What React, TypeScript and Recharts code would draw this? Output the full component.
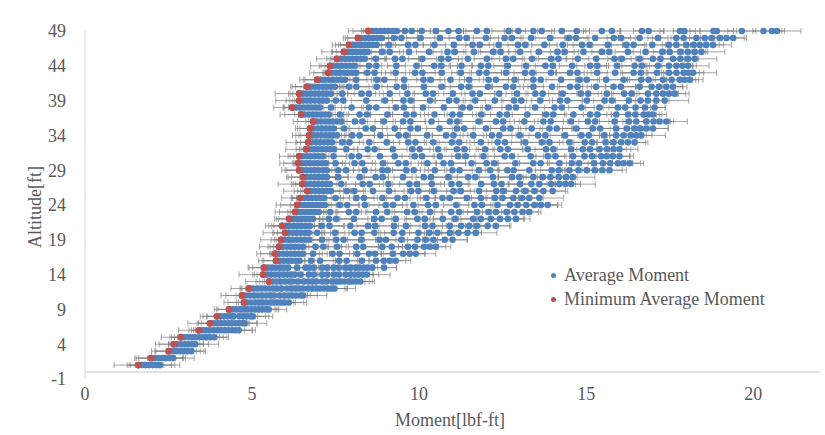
import React from 'react';
import { ScatterChart, Scatter, XAxis, YAxis, ErrorBar, ReferenceLine, Legend } from 'recharts';

const FONT = "'Liberation Serif', 'Times New Roman', serif";
const TEXT = '#595959';
const BLUE = '#4f81bd';
const RED = '#c0504d';

const xTicks = [0, 5, 10, 15, 20];
const yTicks = [-1, 4, 9, 14, 19, 24, 29, 34, 39, 44, 49];

const altitudes = [1, 2, 3, 4, 5, 6, 7, 8, 9, 10, 11, 12, 13, 14, 15, 16, 17, 18, 19, 20, 21, 22, 23, 24, 25,
  26, 27, 28, 29, 30, 31, 32, 33, 34, 35, 36, 37, 38, 39, 40, 41, 42, 43, 44, 45, 46, 47, 48, 49];

const row01 = [1.59, 1.7, 1.81, 1.92, 2.03, 2.14, 2.24];
const row02 = [1.98, 2.09, 2.2, 2.31, 2.42, 2.53, 2.64];
const row03 = [2.51, 2.62, 2.73, 2.84, 2.95, 3.06, 3.18];
const row04 = [2.66, 2.77, 2.88, 2.99, 3.1, 3.21, 3.3];
const row05 = [2.87, 2.98, 3.09, 3.2, 3.31, 3.42, 3.53, 3.64, 3.75, 3.87];
const row06 = [3.41, 3.52, 3.63, 3.74, 3.85, 3.96, 4.07, 4.18, 4.29, 4.4, 4.5, 4.6];
const row07 = [3.74, 3.85, 3.96, 4.07, 4.18, 4.29, 4.4, 4.51, 4.62, 4.72, 4.78];
const row08 = [3.95, 4.05, 4.16, 4.27, 4.38, 4.44, 4.62, 4.73, 4.84, 4.95, 5.02];
const row09 = [4.31, 4.42, 4.53, 4.64, 4.75, 4.86, 4.97, 5.08, 5.19, 5.3, 5.41, 5.5];
const row10 = [4.76, 4.87, 4.98, 5.09, 5.2, 5.31, 5.42, 5.53, 5.64, 5.75, 5.86, 5.97, 6.1];
const row11 = [4.7, 4.82, 4.94, 5.06, 5.18, 5.3, 5.42, 5.54, 5.66, 5.84, 5.96, 6.08, 6.2, 6.32, 6.44, 6.52];
const row12 = [4.91, 5.03, 5.15, 5.27, 5.39, 5.51, 5.63, 5.75, 5.87, 6.05, 6.17, 6.29, 6.41, 6.53, 6.68, 6.8, 6.92, 7.04, 7.16, 7.28, 7.4, 7.47];
const row13 = [5.51, 5.62, 5.74, 5.86, 5.98, 6.1, 6.2, 6.38, 6.56, 6.68, 6.8, 6.92, 7.1, 7.22, 7.4, 7.52, 7.64, 7.76, 7.88, 8.0, 8.12, 8.24];
const row14 = [5.33, 5.45, 5.57, 5.69, 5.81, 5.93, 6.05, 6.17, 6.28, 6.45, 6.7, 6.85, 7.1, 7.25, 7.45, 7.6, 7.8, 7.95, 8.07, 8.19, 8.31, 8.43];
const row15 = [5.36, 5.48, 5.6, 5.72, 5.84, 5.96, 6.08, 6.35, 6.6, 6.72, 6.85, 7.1, 7.25, 7.45, 7.6, 7.8, 7.95, 8.1, 8.22, 8.34, 8.46, 8.6, 8.95];
const row16 = [5.72, 5.83, 5.95, 6.07, 6.19, 6.31, 6.42, 6.77, 7.04, 7.61, 7.83, 8.29, 8.71, 8.94, 9.12, 9.3];
const row17 = [5.69, 5.8, 5.92, 6.04, 6.16, 6.28, 6.4, 6.52, 6.83, 7.41, 7.62, 8.15, 8.5, 8.68, 9.21, 9.52, 9.72, 9.9];
const row18 = [5.81, 5.92, 6.04, 6.16, 6.28, 6.4, 6.52, 6.9, 7.13, 7.55, 8.12, 8.33, 8.9, 9.18, 9.66, 9.88, 10.15, 10.32, 10.5];
const row19 = [5.87, 5.98, 6.1, 6.22, 6.34, 6.46, 6.58, 6.7, 7.1, 7.52, 7.74, 8.28, 8.82, 9.01, 9.47, 9.95, 10.2, 10.43, 10.77, 11.0];
const row20 = [5.99, 6.1, 6.22, 6.34, 6.46, 6.58, 6.7, 6.95, 7.48, 8.07, 8.28, 8.66, 9.24, 9.5, 9.98, 10.31, 10.55, 10.92, 11.18, 11.45, 11.7];
const row21 = [5.9, 6.01, 6.13, 6.25, 6.37, 6.49, 6.61, 6.73, 7.08, 7.32, 7.94, 8.47, 8.68, 9.25, 9.61, 10.18, 10.4, 10.92, 11.26, 11.5, 11.73, 12.05, 12.3];
const row22 = [6.11, 6.22, 6.34, 6.46, 6.58, 6.7, 6.82, 7.3, 7.52, 8.05, 8.66, 8.88, 9.3, 9.95, 10.17, 10.71, 11.08, 11.62, 11.85, 12.15, 12.42, 12.66, 12.9];
const row23 = [6.29, 6.4, 6.52, 6.64, 6.76, 6.88, 7.0, 7.34, 7.9, 8.12, 8.71, 9.05, 9.64, 9.87, 10.33, 10.96, 11.2, 11.74, 12.08, 12.3, 12.62, 12.85, 13.1, 13.3];
const row24 = [6.35, 6.46, 6.58, 6.7, 6.82, 6.94, 7.06, 7.18, 7.62, 7.85, 8.38, 9.0, 9.22, 9.83, 10.27, 10.5, 11.11, 11.66, 11.88, 12.35, 12.72, 12.95, 13.21, 13.45, 13.65, 13.85];
const row25 = [6.44, 6.55, 6.67, 6.79, 6.91, 7.03, 7.15, 7.5, 8.12, 8.35, 8.9, 9.35, 9.58, 10.22, 10.7, 10.92, 11.43, 11.85, 12.27, 12.5, 12.82, 13.08, 13.3, 13.6];
const row26 = [6.65, 6.76, 6.88, 7.0, 7.12, 7.24, 7.36, 7.84, 8.06, 8.62, 9.1, 9.76, 9.98, 10.44, 11.03, 11.25, 11.8, 12.31, 12.52, 12.9, 13.17, 13.45, 13.72, 14.0];
const row27 = [6.5, 6.61, 6.73, 6.85, 6.97, 7.09, 7.21, 7.33, 7.67, 8.31, 8.52, 9.08, 9.71, 9.93, 10.38, 10.97, 11.2, 11.86, 12.24, 12.47, 13.02, 13.36, 13.6, 13.95, 14.2, 14.38, 14.55];
const row28 = [6.53, 6.64, 6.76, 6.88, 7.0, 7.12, 7.24, 7.58, 8.22, 8.7, 8.91, 9.52, 10.14, 10.36, 10.88, 11.47, 11.68, 12.21, 12.78, 13.0, 13.42, 13.7, 13.93, 14.18, 14.4, 14.6];
const row29 = [6.41, 6.52, 6.64, 6.76, 6.88, 7.0, 7.12, 7.24, 7.58, 7.81, 8.37, 8.9, 9.06, 9.62, 9.84, 10.47, 11.0, 11.21, 11.79, 12.13, 12.64, 12.83, 13.3, 13.97, 14.18, 14.5, 14.77, 15.02, 15.26, 15.48, 15.7];
const row30 = [6.38, 6.49, 6.61, 6.73, 6.85, 6.97, 7.09, 7.21, 7.5, 8.07, 8.3, 8.92, 9.38, 9.6, 10.25, 10.73, 10.95, 11.57, 12.02, 12.25, 12.88, 13.42, 13.64, 14.2, 14.57, 14.79, 15.24, 15.5, 15.72, 15.95, 16.12, 16.3];
const row31 = [6.41, 6.52, 6.64, 6.76, 6.88, 7.0, 7.12, 7.44, 7.98, 8.2, 8.83, 9.27, 9.87, 10.09, 10.62, 11.17, 11.4, 11.93, 12.56, 12.78, 13.34, 13.85, 14.08, 14.61, 14.95, 15.18, 15.45, 15.62, 15.8, 16.0];
const row32 = [6.62, 6.73, 6.85, 6.97, 7.09, 7.21, 7.33, 7.45, 7.82, 8.46, 8.67, 9.22, 9.8, 10.02, 10.57, 11.13, 11.36, 11.98, 12.43, 12.66, 13.25, 13.8, 14.02, 14.55, 14.9, 15.12, 15.4, 15.62, 15.82, 16.0];
const row33 = [6.68, 6.79, 6.91, 7.03, 7.15, 7.27, 7.39, 7.7, 7.92, 8.51, 9.03, 9.67, 9.89, 10.42, 10.98, 11.2, 11.85, 12.35, 12.57, 13.18, 13.68, 13.9, 14.5, 14.96, 15.18, 15.58, 15.82, 16.05, 16.25, 16.45];
const row34 = [6.71, 6.82, 6.94, 7.06, 7.18, 7.3, 7.42, 7.54, 8.0, 8.22, 8.84, 9.39, 9.61, 10.24, 10.81, 11.03, 11.62, 12.18, 12.4, 13.01, 13.56, 13.78, 14.37, 14.86, 15.08, 15.55, 15.9, 16.12, 16.34, 16.5, 16.65];
const row35 = [6.74, 6.85, 6.97, 7.09, 7.21, 7.33, 7.45, 7.76, 8.4, 8.62, 9.27, 9.74, 9.96, 10.61, 11.13, 11.35, 12.0, 12.52, 12.74, 13.37, 13.9, 14.12, 14.71, 15.2, 15.42, 15.9, 16.22, 16.45, 16.62, 16.8, 17.0];
const row36 = [6.83, 6.94, 7.06, 7.18, 7.3, 7.42, 7.54, 7.66, 8.08, 8.3, 8.95, 9.52, 9.74, 10.37, 10.92, 11.14, 11.78, 12.3, 12.52, 13.15, 13.72, 13.94, 14.55, 15.05, 15.27, 15.85, 16.28, 16.5, 16.8, 17.02, 17.2, 17.4];
const row37 = [6.47, 6.58, 6.7, 6.82, 6.94, 7.06, 7.18, 7.3, 7.63, 8.22, 8.44, 9.05, 9.62, 9.84, 10.46, 11.0, 11.22, 11.86, 12.41, 12.63, 13.24, 13.8, 14.02, 14.62, 15.12, 15.34, 15.9, 16.25, 16.47, 16.72, 16.86, 17.0];
const row38 = [6.2, 6.31, 6.43, 6.55, 6.67, 6.79, 6.91, 7.03, 7.36, 7.98, 8.5, 8.72, 9.31, 9.55, 10.12, 10.74, 11.3, 11.52, 12.06, 12.68, 12.9, 13.47, 14.05, 14.27, 14.86, 15.4, 15.95, 16.17, 16.48, 16.76, 17.05];
const row39 = [6.41, 6.52, 6.64, 6.76, 6.88, 7.0, 7.12, 7.24, 7.51, 7.73, 8.42, 8.98, 9.53, 9.75, 10.33, 10.9, 11.12, 11.68, 12.27, 12.84, 13.06, 13.63, 14.22, 14.44, 15.02, 15.55, 15.77, 16.28, 16.63, 16.85, 17.1, 17.35];
const row40 = [6.41, 6.52, 6.64, 6.76, 6.88, 7.0, 7.12, 7.24, 7.36, 7.7, 8.28, 8.5, 9.12, 9.65, 10.2, 10.42, 11.01, 11.6, 11.82, 12.4, 12.93, 13.48, 13.7, 14.3, 14.84, 15.06, 15.62, 16.14, 16.36, 16.85, 17.1, 17.3, 17.48, 17.65];
const row41 = [6.65, 6.76, 6.88, 7.0, 7.12, 7.24, 7.36, 7.48, 7.9, 8.12, 8.73, 9.33, 9.55, 10.14, 10.68, 11.26, 11.48, 12.06, 12.6, 12.82, 13.42, 13.98, 14.52, 14.74, 15.3, 15.82, 16.04, 16.6, 16.96, 17.18, 17.4, 17.6];
const row42 = [6.95, 7.06, 7.18, 7.3, 7.42, 7.54, 7.66, 7.78, 8.12, 8.74, 8.96, 9.55, 10.13, 10.35, 10.94, 11.5, 12.08, 12.3, 12.86, 13.42, 13.64, 14.25, 14.8, 15.02, 15.6, 16.12, 16.65, 16.87, 17.3, 17.56, 17.8, 17.95, 18.1];
const row43 = [7.28, 7.39, 7.51, 7.63, 7.75, 7.87, 7.99, 8.11, 8.45, 8.67, 9.3, 9.88, 10.1, 10.68, 11.25, 11.8, 12.02, 12.6, 13.17, 13.39, 13.95, 14.52, 14.74, 15.33, 15.87, 16.42, 16.64, 17.12, 17.48, 17.7, 17.92, 18.06, 18.2];
const row44 = [7.34, 7.45, 7.57, 7.69, 7.81, 7.93, 8.05, 8.5, 8.72, 9.32, 9.92, 10.45, 10.67, 11.27, 11.85, 12.07, 12.66, 13.2, 13.78, 14.0, 14.58, 15.12, 15.34, 15.92, 16.45, 16.67, 17.15, 17.48, 17.7, 17.88, 18.05];
const row45 = [7.54, 7.65, 7.77, 7.89, 8.01, 8.13, 8.25, 8.37, 8.7, 9.28, 9.5, 10.1, 10.66, 10.88, 11.46, 12.03, 12.6, 12.82, 13.38, 13.95, 14.17, 14.75, 15.3, 15.85, 16.07, 16.6, 17.0, 17.22, 17.6, 17.82, 18.05, 18.25];
const row46 = [7.75, 7.86, 7.98, 8.1, 8.22, 8.34, 8.46, 8.9, 9.12, 9.7, 10.3, 10.85, 11.07, 11.64, 12.22, 12.44, 13.02, 13.58, 14.14, 14.36, 14.92, 15.47, 15.69, 16.25, 16.78, 17.28, 17.5, 17.82, 18.04, 18.25, 18.45];
const row47 = [7.9, 8.01, 8.13, 8.25, 8.37, 8.49, 8.61, 8.73, 9.1, 9.67, 9.89, 10.46, 11.04, 11.6, 11.82, 12.38, 12.96, 13.18, 13.75, 14.3, 14.88, 15.1, 15.65, 16.2, 16.42, 16.98, 17.48, 17.7, 18.0, 18.22, 18.4, 18.6, 18.8];
const row48 = [8.17, 8.28, 8.4, 8.52, 8.64, 8.76, 8.88, 9.25, 9.47, 10.05, 10.62, 11.2, 11.42, 12.0, 12.56, 12.78, 13.35, 13.92, 14.48, 14.7, 15.27, 15.83, 16.05, 16.6, 17.15, 17.7, 17.92, 18.3, 18.55, 18.75, 19.0, 19.2, 19.4];
const row49 = [8.48, 8.6, 8.72, 8.84, 8.96, 9.08, 9.2, 9.32, 9.58, 9.78, 10.08, 10.5, 10.88, 11.18, 11.73, 12.03, 12.68, 12.97, 13.42, 13.67, 14.27, 14.72, 15.47, 15.77, 16.67, 16.87, 17.81, 17.94, 18.81, 18.91, 19.66, 20.31, 20.56, 20.71];

const momentRows = [row01, row02, row03, row04, row05, row06, row07, row08, row09, row10,
  row11, row12, row13, row14, row15, row16, row17, row18, row19, row20,
  row21, row22, row23, row24, row25, row26, row27, row28, row29, row30,
  row31, row32, row33, row34, row35, row36, row37, row38, row39, row40,
  row41, row42, row43, row44, row45, row46, row47, row48, row49];

// error-bar half widths (lbf-ft), applied in turn to the points of each row
const errorPattern = [0.72, 0.38, 0.55, 0.27, 0.66, 0.45, 0.6, 0.33, 0.7, 0.5, 0.42, 0.63, 0.3];

const averageData = momentRows.flatMap((row, r) =>
  row.map((x, i) => ({ x, y: altitudes[r], err: errorPattern[(i + r * 5) % errorPattern.length] }))
);
const minimumData = momentRows.map((row, r) => ({ x: Math.min(...row), y: altitudes[r] }));

const NoDot = () => <g />;
const BlueDot = (p: any) => <circle cx={p.cx} cy={p.cy} r={3.3} fill={BLUE} />;
const RedDot = (p: any) => <circle cx={p.cx} cy={p.cy} r={3.4} fill={RED} />;

const yTitle = () => (
  <text x={35} y={207} transform="rotate(-90, 35, 207)" textAnchor="middle" dominantBaseline="central"
    fill={TEXT} fontSize={18} fontFamily={FONT}>Altitude[ft]</text>
);
const xTitle = () => (
  <text x={450} y={420} textAnchor="middle" dominantBaseline="central"
    fill={TEXT} fontSize={18} fontFamily={FONT}>Moment[lbf-ft]</text>
);

function LegendContent(props: any) {
  const items = (props.payload || []).filter((it: any) => it.value === 'Average Moment' || it.value === 'Minimum Average Moment');
  return (
    <div style={{ fontFamily: FONT, fontSize: 18, color: TEXT }}>
      {items.map((it: any) => (
        <div key={it.value} style={{ height: 24, display: 'flex', alignItems: 'center', whiteSpace: 'nowrap' }}>
          <span style={{ display: 'inline-block', width: 5, height: 5, borderRadius: 3, background: it.value === 'Minimum Average Moment' ? RED : BLUE }} />
          <span style={{ marginLeft: 8 }}>{it.value}</span>
        </div>
      ))}
    </div>
  );
}

export default function App() {
  return (
    <div style={{ position: 'absolute', left: 0, top: 0, width: 825, height: 435, background: '#fff' }}>
      <ScatterChart width={825} height={435} margin={{ top: 31, right: 5, bottom: 0, left: 0 }}>
        <XAxis type="number" dataKey="x" domain={[0, 22]} ticks={xTicks} height={56}
          axisLine={false} tickLine={false}
          tick={{ fill: TEXT, fontSize: 18, fontFamily: FONT }} label={xTitle} />
        <YAxis type="number" dataKey="y" domain={[-1, 49]} ticks={yTicks} width={85}
          axisLine={{ stroke: '#d9d9d9' }} tickLine={false} tickMargin={13}
          tick={{ fill: TEXT, fontSize: 18, fontFamily: FONT }} label={yTitle} />
        <ReferenceLine y={0} stroke="#d9d9d9" strokeWidth={1.5} />
        <Scatter name="errors" legendType="none" data={averageData} fill="none" shape={NoDot} isAnimationActive={false}>
          <ErrorBar dataKey="err" direction="x" width={3} stroke="#7f7f7f" strokeWidth={0.7} isAnimationActive={false} />
        </Scatter>
        <Scatter name="Average Moment" data={averageData} fill={BLUE} shape={BlueDot} isAnimationActive={false} />
        <Scatter name="Minimum Average Moment" data={minimumData} fill={RED} shape={RedDot} isAnimationActive={false} />
        <Legend layout="vertical" align="center" verticalAlign="middle" content={LegendContent}
          wrapperStyle={{ left: 551, top: 263, width: 270, height: 48 }} />
      </ScatterChart>
    </div>
  );
}
